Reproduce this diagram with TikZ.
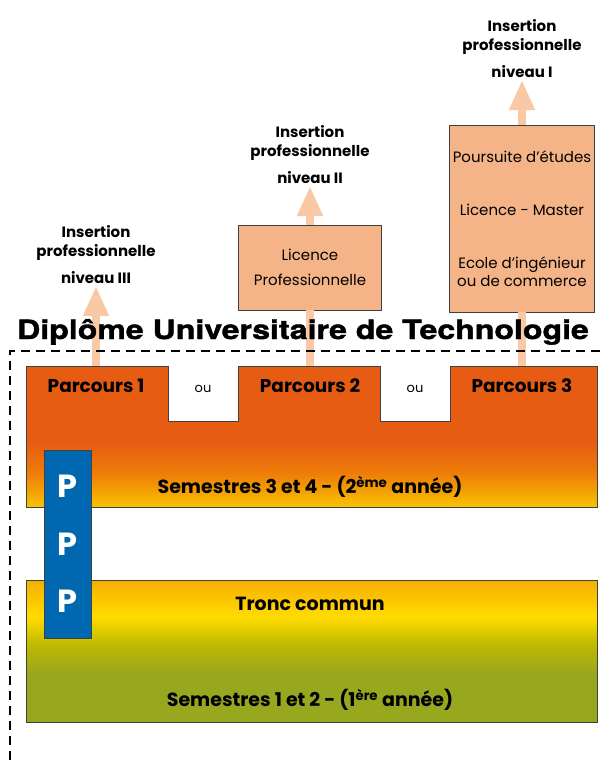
\documentclass[tikz,border=0pt]{standalone}
\usepackage{fontspec}
\setmainfont{Poppins}
\newfontfamily\titrefont{TeX Gyre Heros}[FakeStretch=1.21,BoldFeatures={FakeBold=1.5}]
\usetikzlibrary{arrows.meta,positioning}

\definecolor{peche}{RGB}{250,200,165}
\definecolor{saumon}{RGB}{245,180,135}
\definecolor{bleuppp}{RGB}{0,104,176}
\definecolor{orangeA}{RGB}{230,92,18}
\definecolor{orangeB}{RGB}{238,125,8}
\definecolor{jauneA}{RGB}{249,194,0}
\definecolor{jauneB}{RGB}{255,220,0}
\definecolor{jauneC}{RGB}{246,174,0}
\definecolor{olive}{RGB}{152,168,30}
\definecolor{oliveB}{RGB}{190,184,0}

\pgfdeclareverticalshading{semdeux}{100bp}{color(0bp)=(jauneA); color(25bp)=(jauneA); color(37bp)=(orangeB); color(48bp)=(orangeA); color(100bp)=(orangeA)}
\pgfdeclareverticalshading{semun}{100bp}{color(0bp)=(olive); color(25bp)=(olive); color(42bp)=(olive); color(52bp)=(oliveB); color(62bp)=(jauneB); color(75bp)=(jauneC); color(100bp)=(jauneC)}

\tikzset{
	fleche/.style={draw=peche,line width=8pt,-{Triangle[width=24pt,length=30pt]}},
	tige/.style={draw=peche,line width=8pt},
	debouche/.style={draw=black!75,fill=saumon,align=center,font=\fontsize{15}{18}\selectfont},
	niveau/.style={align=center,inner sep=2pt,font=\bfseries\fontsize{15}{19}\selectfont},
	parc/.style={font=\bfseries\fontsize{18.5}{20}\selectfont},
	ou/.style={font=\fontsize{13}{15}\selectfont},
	sem/.style={font=\bfseries\fontsize{19}{22}\selectfont},
}

\begin{document}
\begin{tikzpicture}[x=1pt,y=-1pt]
		\useasboundingbox (0,0) rectangle (600,760);
		\coordinate (A1) at (96,366);
		\coordinate (A2) at (310,366);
		\coordinate (A3) at (522,366);

		\node[debouche,minimum width=143,minimum height=85] (lp) at (310,267.5) {Licence\\[7pt]Professionnelle};
		\node[debouche,minimum width=142,minimum height=187] (lm) at (522,218.5) {Poursuite d’études\\[35pt]Licence - Master\\[35pt]Ecole d’ingénieur\\ou de commerce};

		\node[niveau,anchor=south] (niv3) at (96,286) {Insertion\\professionnelle\\[8pt]niveau III};
		\node[niveau,anchor=south] (niv2) at (310,186) {Insertion\\professionnelle\\[8pt]niveau II};
		\node[niveau,anchor=south] (niv1) at (522,80) {Insertion\\professionnelle\\[8pt]niveau I};

		\draw[fleche] (A1) -- (niv3.south);
		\draw[tige] (A2) -- (lp.south);
		\draw[fleche] (lp.north) -- (niv2.south);
		\draw[tige] (A3) -- (lm.south);
		\draw[fleche] (lm.north) -- (niv1.south);

		\node[anchor=base west,inner sep=0pt,font=\titrefont\bfseries\fontsize{26.5}{30}\selectfont] (dut) at (17,339) {Diplôme Universitaire de Technologie};
		\draw[line width=1.5pt,dash pattern=on 9pt off 6pt] (10,760) -- (10,351) -- (600,351);

		\shade[shading=semdeux,draw=black!75] (26,366) -- (168,366) -- (168,421) -- (238,421) -- (238,366) -- (380,366) -- (380,421) -- (450,421) -- (450,366) -- (597,366) -- (597,507) -- (26,507) -- cycle;
		\shade[shading=semun,draw=black!75] (26,580) rectangle (597,722);

		\node[parc] (parc1) at (96,386) {Parcours 1};
		\node[parc] (parc2) at (310,386) {Parcours 2};
		\node[parc] (parc3) at (522,386) {Parcours 3};
		\node[ou] (ou1) at (203,389) {ou};
		\node[ou] (ou2) at (415,389) {ou};
		\node[sem] (s34) at (310,487) {Semestres 3 et 4 - (2\textsuperscript{ème} année)};
		\node[sem] (tronc) at (310,604) {Tronc commun};
		\node[sem] (s12) at (310,700) {Semestres 1 et 2 - (1\textsuperscript{ère} année)};

		\node[draw=black!75,fill=bleuppp,minimum width=47,minimum height=188,text=white,align=center,font=\bfseries\fontsize{32}{57.5}\selectfont] (ppp) at (67.5,544) {P\\P\\P};
	    \end{tikzpicture}
\end{document}
